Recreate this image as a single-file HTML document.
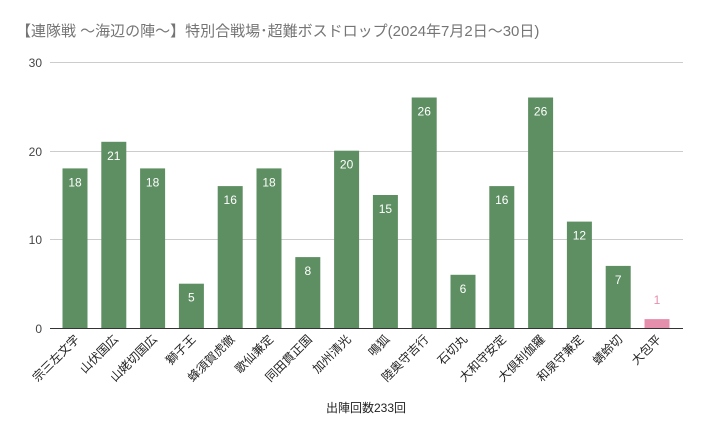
<!DOCTYPE html><html><head><meta charset="utf-8"><style>body{margin:0;background:#fff}</style></head><body>
<svg width="704" height="436" xmlns="http://www.w3.org/2000/svg" font-family="Liberation Sans, Noto Sans CJK JP, sans-serif">
<rect width="704" height="436" fill="#fff"/>
<text x="16" y="36" font-size="15" fill="#757575">【連隊戦 ～海辺の陣～】特別合戦場･超難ボスドロップ(2024年7月2日～30日)</text>
<g stroke="#ccc" stroke-width="1">
<line x1="50" x2="683" y1="62.5" y2="62.5"/><line x1="50" x2="683" y1="151.5" y2="151.5"/><line x1="50" x2="683" y1="239.5" y2="239.5"/>
</g>
<g font-size="12" fill="#444" text-anchor="end">
<text x="42" y="67">30</text><text x="42" y="156">20</text><text x="42" y="244">10</text><text x="42" y="333">0</text>
</g>
<g fill="#5e8f62">
<rect x="62.5" y="168.4" width="25" height="159.6"/>
<rect x="101.3" y="141.8" width="25" height="186.2"/>
<rect x="140.1" y="168.4" width="25" height="159.6"/>
<rect x="178.9" y="283.7" width="25" height="44.3"/>
<rect x="217.7" y="186.1" width="25" height="141.9"/>
<rect x="256.5" y="168.4" width="25" height="159.6"/>
<rect x="295.3" y="257.1" width="25" height="70.9"/>
<rect x="334.1" y="150.7" width="25" height="177.3"/>
<rect x="372.9" y="195" width="25" height="133"/>
<rect x="411.7" y="97.5" width="25" height="230.5"/>
<rect x="450.5" y="274.8" width="25" height="53.2"/>
<rect x="489.3" y="186.1" width="25" height="141.9"/>
<rect x="528.1" y="97.5" width="25" height="230.5"/>
<rect x="566.9" y="221.6" width="25" height="106.4"/>
<rect x="605.7" y="265.9" width="25" height="62.1"/>
</g>
<rect x="644.5" y="319.1" width="25" height="8.9" fill="#e68fac"/>
<g font-size="12" fill="#fff" text-anchor="middle">
<text x="75" y="186.4">18</text>
<text x="113.8" y="159.8">21</text>
<text x="152.6" y="186.4">18</text>
<text x="191.4" y="301.7">5</text>
<text x="230.2" y="204.1">16</text>
<text x="269" y="186.4">18</text>
<text x="307.8" y="275.1">8</text>
<text x="346.6" y="168.7">20</text>
<text x="385.4" y="213">15</text>
<text x="424.2" y="115.5">26</text>
<text x="463" y="292.8">6</text>
<text x="501.8" y="204.1">16</text>
<text x="540.6" y="115.5">26</text>
<text x="579.4" y="239.6">12</text>
<text x="618.2" y="283.9">7</text>
</g>
<text x="657" y="304" font-size="12" fill="#e68fac" text-anchor="middle">1</text>
<line x1="50" x2="683" y1="328.5" y2="328.5" stroke="#333" stroke-width="1"/>
<g font-size="12" fill="#222" text-anchor="end">
<text transform="translate(80,340) rotate(-45)">宗三左文字</text>
<text transform="translate(118.8,340) rotate(-45)">山伏国広</text>
<text transform="translate(157.6,340) rotate(-45)">山姥切国広</text>
<text transform="translate(196.4,340) rotate(-45)">獅子王</text>
<text transform="translate(235.2,340) rotate(-45)">蜂須賀虎徹</text>
<text transform="translate(274,340) rotate(-45)">歌仙兼定</text>
<text transform="translate(312.8,340) rotate(-45)">同田貫正国</text>
<text transform="translate(351.6,340) rotate(-45)">加州清光</text>
<text transform="translate(390.4,340) rotate(-45)">鳴狐</text>
<text transform="translate(429.2,340) rotate(-45)">陸奥守吉行</text>
<text transform="translate(468,340) rotate(-45)">石切丸</text>
<text transform="translate(506.8,340) rotate(-45)">大和守安定</text>
<text transform="translate(545.6,340) rotate(-45)">大倶利伽羅</text>
<text transform="translate(584.4,340) rotate(-45)">和泉守兼定</text>
<text transform="translate(623.2,340) rotate(-45)">蜻蛉切</text>
<text transform="translate(662,340) rotate(-45)">大包平</text>
</g>
<text x="366" y="412" font-size="12" fill="#222" text-anchor="middle">出陣回数233回</text>
</svg></body></html>
